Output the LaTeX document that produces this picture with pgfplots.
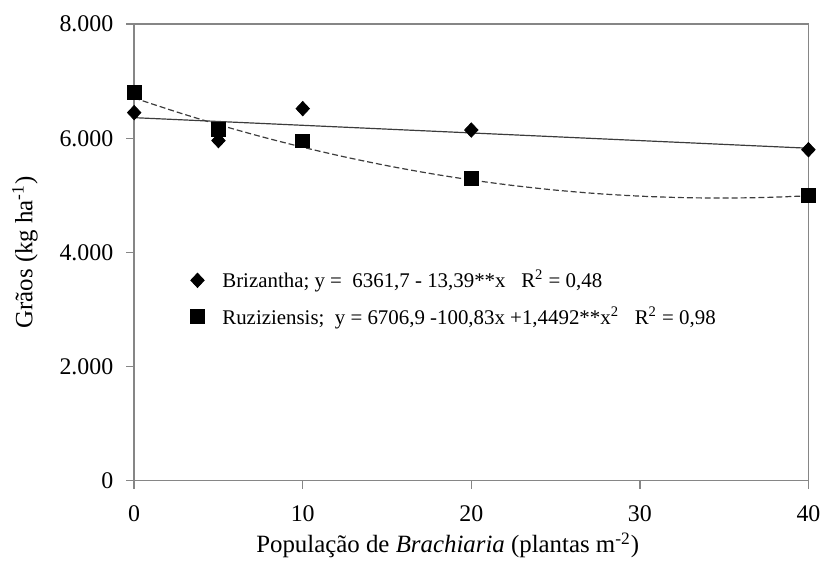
\documentclass[border=0pt]{standalone}
\usepackage{pgfplots}
\pgfplotsset{compat=1.18}
\usepackage{fontspec}
\setmainfont{Liberation Serif}

\definecolor{axisgray}{RGB}{134,134,134}
\definecolor{linegray}{RGB}{60,60,60}

\begin{document}
\begin{tikzpicture}
\begin{axis}[
  scale only axis,
  width=339pt, height=229.5pt,
  xmin=0, xmax=40,
  ymin=0, ymax=8000,
  xtick={0,10,20,30,40},
  ytick={0,2000,4000,6000,8000},
  axis line style={axisgray, line width=0.7pt},
  tick style={axisgray, line width=0.7pt},
  tick align=outside,
  major tick length=4pt,
  xtick pos=bottom, ytick pos=left,
  /pgf/number format/.cd, 1000 sep={.}, assume math mode=true,
  /pgfplots/.cd,
  ticklabel style={font=\fontsize{12}{14}\selectfont, black},
  yticklabel style={xshift=-3pt},
  xticklabel style={yshift=-5pt},
  xlabel={População de \textit{Brachiaria} (plantas m\textsuperscript{-2})},
  ylabel={Grãos (kg ha\textsuperscript{-1})},
  label style={font=\fontsize{12.5}{14}\selectfont},
  xlabel style={at={(axis description cs:0.465,-0.142)}, anchor=center},
  ylabel style={at={(axis description cs:-0.162,0.5)}, anchor=center, rotate=0},
  clip=false,
  legend style={at={(axis description cs:0.083,0.471)}, anchor=north west,
    draw=none, fill=none, font=\fontsize{10.5}{12}\selectfont,
    row sep=4pt, column sep=7pt, inner sep=0pt},
  legend cell align=left,
]
% trend lines
\addplot[linegray, line width=0.6pt, forget plot]
  coordinates {(0,6361.7) (40,5826.1)};
\addplot[linegray, line width=0.6pt, dash pattern=on 3pt off 1.5pt, smooth, forget plot]
  coordinates {
  (0,6706.9) (2.5,6463.9) (5,6239.0) (7.5,6032.2) (10,5843.5)
  (12.5,5673.0) (15,5520.5) (17.5,5386.2) (20,5270.0) (22.5,5171.9)
  (25,5091.9) (27.5,5030.0) (30,4986.3) (32.5,4960.6) (35,4953.1)
  (37.5,4963.7) (40,4992.4)};
% observed data
\addplot[only marks, mark=diamond*, mark size=3.6pt, black,
  mark options={xscale=1.25}]
  coordinates {(0,6450) (5,5960) (10,6520) (20,6145) (40,5800)};
\addlegendentry{Brizantha; y = \ 6361,7 - 13,39**x \ \ R\textsuperscript{2} = 0,48}
\addplot[only marks, mark=square*, mark size=3.5pt, black]
  coordinates {(0,6800) (5,6160) (10,5955) (20,5290) (40,5000)};
\addlegendentry{Ruziziensis; \ y = 6706,9 -100,83x +1,4492**x\textsuperscript{2} \ \ R\textsuperscript{2} = 0,98}
\path (axis description cs:-0.199,-0.1776) rectangle (axis description cs:1.0206,1.053);
\end{axis}
\end{tikzpicture}
\end{document}
